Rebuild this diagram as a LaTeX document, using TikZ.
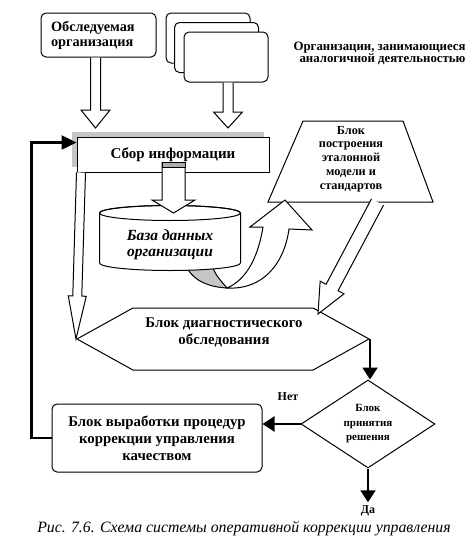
\documentclass[tikz,border=0pt]{standalone}
\usepackage{fontspec}
\setmainfont{Liberation Serif}
\usetikzlibrary{arrows.meta,calc,shapes.geometric,shapes.symbols,shadows}

% hollow block arrow: from, to, shaft half width, head half width, head length
\newcommand\hollowarrow[5]{%
	\coordinate (hb) at ($(#2)!#5!(#1)$);
	\filldraw[fill=white, line width=1pt, line join=miter] ($(#1)!#3!90:(#2)$) -- ($(hb)!#3!-90:(#1)$) -- ($(hb)!#4!-90:(#1)$) -- (#2)
		-- ($(hb)!#4!90:(#1)$) -- ($(hb)!#3!90:(#1)$) -- ($(#1)!#3!-90:(#2)$);
}

\begin{document}
\begin{tikzpicture}[x=1pt, y=-1pt,
	box/.style={draw, line width=1pt, fill=white},
	rbox/.style={box, rounded corners=5pt},
	lbl/.style={font=\bfseries\fontsize{14.8}{17}\selectfont, align=center},
	smalllbl/.style={font=\bfseries\fontsize{12}{13.3}\selectfont, align=center},
	flow/.style={line width=2pt, -{Triangle[length=12pt, width=15pt]}}]
	\useasboundingbox (0,0) rectangle (474,546);

	\node [rbox, minimum width=115pt, minimum height=44pt, text width=95pt, inner xsep=10pt, align=left, font=\bfseries\fontsize{14.3}{15}\selectfont] (obsl) at (98.5,35) {Обследуемая\\организация};

	\node [rbox, minimum width=84pt, minimum height=50pt] (org1) at (208,38) {};
	\node [rbox, minimum width=84pt, minimum height=50pt] (org2) at (216.5,47.5) {};
	\node [rbox, minimum width=84pt, minimum height=50pt] (org3) at (226,57) {};
	\node [smalllbl, font=\bfseries\fontsize{12.8}{12}\selectfont, align=right, anchor=east] (orgtxt) at (469,53) {Организации, занимающиеся\\аналогичной деятельностью};

	\coordinate (a1s) at ($(obsl.south)+(-3,0)$);
	\coordinate (a1e) at ($(a1s |- 0,137)+(0,-9)$);
	\hollowarrow{a1s}{a1e}{5pt}{14.5pt}{18pt}
	\coordinate (a2s) at ($(org3.south)+(2,0)$);
	\coordinate (a2e) at ($(a2s |- 0,137)+(0,-9)$);
	\hollowarrow{a2s}{a2e}{5pt}{14.5pt}{16pt}

	\node [box, minimum width=192pt, minimum height=35pt, lbl, font=\bfseries\fontsize{15}{17}\selectfont,
		drop shadow={shadow xshift=-5pt, shadow yshift=5pt, fill=gray!45, opacity=1}] (sbor) at (173,154.5) {Сбор информации};

	% trapezoid
	\draw [box] (303,121) -- (403,121) -- (433,202) -- (268,202) -- cycle;
	\node [smalllbl, font=\bfseries\fontsize{12.3}{13.75}\selectfont] (etal) at (351,159) {Блок\\построения\\эталонной\\модели и\\стандартов};

	% twisted arrow from the data base
	\filldraw [fill=gray!45, line width=1pt] (187,268) .. controls (195,282) and (210,287) .. (227,288)
		.. controls (222,282) and (216,276) .. (213,268) -- cycle;
	\filldraw [fill=white, line width=1pt] (227,288) .. controls (262,290) and (284,265) .. (289,229) -- (312,230) -- (285,200)
		-- (250,227) -- (263,227) .. controls (258,258) and (246,280) .. (227,288) -- cycle;

	% data base
	\filldraw [fill=white, line width=1pt] (99.5,213) -- (99.5,263) arc [start angle=180, end angle=360, x radius=70.5pt, y radius=7.5pt]
		-- (240.5,213) arc [start angle=0, end angle=180, x radius=70.5pt, y radius=7.5pt] -- cycle;
	\draw [line width=1pt] (170,213) ellipse [x radius=70.5pt, y radius=7.5pt];
	\node [lbl, font=\bfseries\itshape\fontsize{15.5}{15.5}\selectfont] (baza) at (170,245) {База данных\\организации};

	\coordinate (a3s) at (173.5,162);
	\coordinate (a3e) at (173.5,213);
	\hollowarrow{a3s}{a3e}{11.5pt}{21.5pt}{13pt}
	\filldraw [fill=gray!65, line width=1pt] ($(a3s)+(-11.5,0)$) rectangle ($(a3s)+(11.5,5)$);

	\node [box, signal, signal to=east and west, signal pointer angle=58, minimum width=292pt, minimum height=62pt] (diag) at (223,339) {};
	\node [lbl] (diagtxt) at (224,332) {Блок диагностического\\обследования};

	\coordinate (a4s) at ($(sbor.south west)+(4.5,0)$);
	\hollowarrow{a4s}{diag.west}{4.5pt}{9pt}{43pt}
	\coordinate (a5s) at (377.5,202);
	\coordinate (a5e) at (318,314);
	\hollowarrow{a5s}{a5e}{6.8pt}{13.5pt}{30pt}

	\node [box, diamond, aspect=1.5, minimum width=134pt, minimum height=88pt, inner sep=0pt, font=\bfseries\fontsize{11}{14.5}\selectfont, align=center] (resh) at (368,424) {Блок\\принятия\\решения};
	\node [rbox, minimum width=210pt, minimum height=68pt, lbl] (korr) at (157,438) {Блок выработки процедур\\коррекции управления\\качеством};
	\node [smalllbl] (net) at (288,397) {Нет};
	\node [smalllbl] (da) at (368,511) {Да};

	\draw [flow] (diag.east) -- (diag.east |- resh.north);
	\draw [flow] (resh.west) -- (resh.west -| korr.east);
	\draw [flow] (resh.south) -- (da.north);
	\draw [line width=2.5pt, -{Triangle[length=15pt, width=14pt]}] (korr.west) -- ++(-20,0) |- ($(sbor.north west)+(0,6)$);

	\node [font=\itshape\fontsize{15.8}{18}\selectfont] (cap) at (244,529) {Рис. 7.6. Схема системы оперативной коррекции управления};
\end{tikzpicture}
\end{document}
